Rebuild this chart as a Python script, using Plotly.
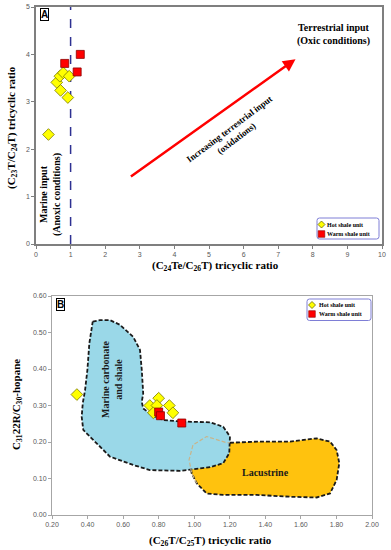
import plotly.graph_objects as go

# ---------------- Panel A data ----------------
a_hot_x = [0.36, 0.60, 0.69, 0.79, 0.96, 0.71, 0.92]
a_hot_y = [2.31, 3.41, 3.54, 3.61, 3.54, 3.24, 3.09]
a_warm_x = [0.83, 1.28, 1.19]
a_warm_y = [3.81, 4.00, 3.63]
a_marine_limit = 1.0
a_arrow_x = [2.7, 7.5]
a_arrow_y = [1.4, 3.9]
a_xticks = [0, 1, 2, 3, 4, 5, 6, 7, 8, 9, 10]
a_yticks = [0, 1, 2, 3, 4, 5]

# ---------------- Panel B data ----------------
b_hot_x = [0.34, 0.75, 0.80, 0.79, 0.77, 0.86, 0.88]
b_hot_y = [0.33, 0.30, 0.32, 0.30, 0.28, 0.30, 0.28]
b_warm_x = [0.80, 0.81, 0.93]
b_warm_y = [0.282, 0.272, 0.252]
b_xticks = [0.2, 0.4, 0.6, 0.8, 1.0, 1.2, 1.4, 1.6, 1.8, 2.0]
b_yticks = [0.0, 0.1, 0.2, 0.3, 0.4, 0.5, 0.6]

marine_x = [0.429, 0.470, 0.526, 0.582, 0.657, 0.695, 0.705, 0.713, 0.705, 0.713,
            0.761, 0.826, 0.938, 1.032, 1.089, 1.163, 1.201, 1.197, 1.163, 1.089,
            0.976, 0.920, 0.751, 0.657, 0.526, 0.414, 0.376, 0.367, 0.373, 0.386,
            0.399, 0.410, 0.423, 0.429]
marine_y = [0.530, 0.534, 0.534, 0.521, 0.488, 0.452, 0.397, 0.333, 0.310, 0.292,
            0.274, 0.260, 0.256, 0.256, 0.254, 0.242, 0.215, 0.169, 0.142, 0.131,
            0.123, 0.121, 0.123, 0.137, 0.160, 0.215, 0.233, 0.269, 0.306, 0.342,
            0.397, 0.470, 0.516, 0.530]

lacus_x = [1.201, 1.351, 1.539, 1.689, 1.764, 1.801, 1.816, 1.801, 1.764, 1.689,
           1.539, 1.351, 1.163, 1.070, 1.014, 0.986, 0.971, 0.993, 1.070, 1.183, 1.201]
lacus_y = [0.198, 0.201, 0.201, 0.210, 0.201, 0.178, 0.142, 0.096, 0.059, 0.048,
           0.050, 0.055, 0.055, 0.059, 0.087, 0.114, 0.151, 0.192, 0.215, 0.198, 0.198]

legend_labels = ["Hot shale unit", "Warm shale unit"]

W, H = 391, 550
SERIF = "Liberation Serif"
SANS = "Liberation Sans"
HOT_COLOR = "#FFFF00"
WARM_COLOR = "#FF0000"
REGION_LINE = dict(color="#1a1a1a", width=1.8, dash="4px,2px")


def px(x):
    return x / W


def py(y):
    return 1 - y / H


fig = go.Figure()

# Panel B regions
fig.add_trace(go.Scatter(x=lacus_x, y=lacus_y, xaxis="x2", yaxis="y2", mode="lines",
                         fill="toself", fillcolor="#FFC20E", line=REGION_LINE,
                         hoverinfo="skip", showlegend=False))
fig.add_trace(go.Scatter(x=marine_x, y=marine_y, xaxis="x2", yaxis="y2", mode="lines",
                         fill="toself", fillcolor="#9AD8E8", line=REGION_LINE,
                         hoverinfo="skip", showlegend=False))
fig.add_trace(go.Scatter(x=lacus_x[14:], y=lacus_y[14:], xaxis="x2", yaxis="y2", mode="lines",
                         line=dict(color="#c9b48a", width=1.2, dash="4px,2px"),
                         hoverinfo="skip", showlegend=False))

# dashed vertical line (panel A)
fig.add_trace(go.Scatter(x=[a_marine_limit, a_marine_limit], y=[a_yticks[0], a_yticks[-1]],
                         mode="lines", line=dict(color="#2E3192", width=1.5, dash="dash"),
                         hoverinfo="skip", showlegend=False))

# Panel A points
fig.add_trace(go.Scatter(x=a_hot_x, y=a_hot_y, mode="markers", name=legend_labels[0],
                         marker=dict(symbol="diamond", size=9, color=HOT_COLOR,
                                     line=dict(color="#7a7a00", width=0.8)),
                         showlegend=False))
fig.add_trace(go.Scatter(x=a_warm_x, y=a_warm_y, mode="markers", name=legend_labels[1],
                         marker=dict(symbol="square", size=8, color=WARM_COLOR,
                                     line=dict(color="#8b0000", width=0.8)),
                         showlegend=False))
# Panel B points
fig.add_trace(go.Scatter(x=b_hot_x, y=b_hot_y, xaxis="x2", yaxis="y2", mode="markers",
                         name=legend_labels[0],
                         marker=dict(symbol="diamond", size=9, color=HOT_COLOR,
                                     line=dict(color="#7a7a00", width=0.8)),
                         showlegend=False))
fig.add_trace(go.Scatter(x=b_warm_x, y=b_warm_y, xaxis="x2", yaxis="y2", mode="markers",
                         name=legend_labels[1],
                         marker=dict(symbol="square", size=8, color=WARM_COLOR,
                                     line=dict(color="#8b0000", width=0.8)),
                         showlegend=False))

tickfont = dict(family=SANS, size=7, color="#595959")
axis_common = dict(showgrid=False, zeroline=False, showline=True, mirror=True,
                   ticks="outside", ticklen=3, tickfont=tickfont, automargin=False)

fig.update_layout(
    width=W, height=H,
    margin=dict(l=0, r=0, t=0, b=0, autoexpand=False),
    paper_bgcolor="white", plot_bgcolor="white",
    showlegend=False,
    xaxis=dict(domain=[36/W, 382/W], range=[a_xticks[0], a_xticks[-1]],
               tickvals=a_xticks, linecolor="#7f7f7f", linewidth=1.5,
               tickcolor="#7f7f7f", anchor="y", **axis_common),
    yaxis=dict(domain=[1-244/H, 1-7/H], range=[a_yticks[0], a_yticks[-1]],
               tickvals=a_yticks, linecolor="#7f7f7f", linewidth=1.5,
               tickcolor="#7f7f7f", anchor="x", **axis_common),
    xaxis2=dict(domain=[52/W, 372/W], range=[b_xticks[0], b_xticks[-1]],
                tickvals=b_xticks, tickformat=".2f", linecolor="#a6a6a6", linewidth=1,
                tickcolor="#a6a6a6", anchor="y2", **axis_common),
    yaxis2=dict(domain=[1-515/H, 1-296/H], range=[b_yticks[0], b_yticks[-1]],
                tickvals=b_yticks, tickformat=".2f", linecolor="#a6a6a6", linewidth=1,
                tickcolor="#a6a6a6", anchor="x2", **axis_common),
)

shapes = []
ann = []


def text_ann(text, x, y, size, angle=0, family=SERIF, color="black", **kw):
    d = dict(text=text, xref="paper", yref="paper", x=px(x), y=py(y),
             xanchor="center", yanchor="middle", showarrow=False, textangle=angle,
             font=dict(family=family, size=size, color=color))
    d.update(kw)
    ann.append(d)


def rounded_rect(x0, y0, x1, y1, r):
    return (f"M {px(x0 + r)} {py(y0)} L {px(x1 - r)} {py(y0)} "
            f"Q {px(x1)} {py(y0)} {px(x1)} {py(y0 + r)} L {px(x1)} {py(y1 - r)} "
            f"Q {px(x1)} {py(y1)} {px(x1 - r)} {py(y1)} L {px(x0 + r)} {py(y1)} "
            f"Q {px(x0)} {py(y1)} {px(x0)} {py(y1 - r)} L {px(x0)} {py(y0 + r)} "
            f"Q {px(x0)} {py(y0)} {px(x0 + r)} {py(y0)} Z")


def add_legend(box, items_y, marker_x, text_x):
    x0, y0, x1, y1 = box
    shapes.append(dict(type="path", xref="paper", yref="paper", layer="above",
                       path=rounded_rect(x0, y0, x1, y1, 2.5),
                       line=dict(color="#7E7ED6", width=1), fillcolor="white"))
    cy = items_y[0]
    r = 3.5
    shapes.append(dict(type="path", xref="paper", yref="paper", layer="above",
                       path=f"M {px(marker_x - r)} {py(cy)} L {px(marker_x)} {py(cy - r)} "
                            f"L {px(marker_x + r)} {py(cy)} L {px(marker_x)} {py(cy + r)} Z",
                       fillcolor=HOT_COLOR, line=dict(color="#6b6b00", width=0.8)))
    cy = items_y[1]
    r = 3.3
    shapes.append(dict(type="rect", xref="paper", yref="paper", layer="above",
                       x0=px(marker_x - r), x1=px(marker_x + r), y0=py(cy + r), y1=py(cy - r),
                       fillcolor=WARM_COLOR, line=dict(color="#8b0000", width=0.6)))
    for lab, cy in zip(legend_labels, items_y):
        ann.append(dict(text=f"<b>{lab}</b>", xref="paper", yref="paper",
                        x=px(text_x), y=py(cy), xanchor="left", yanchor="middle",
                        showarrow=False, font=dict(family=SERIF, size=6, color="black")))


add_legend((317, 218, 379, 239), (224.5, 234), 321.5, 325)
add_legend((307, 299, 371, 320.5), (305, 314), 312, 316.5)

# Panel labels
text_ann("<b>A</b>", 44.5, 15, 10, family=SANS,
         bordercolor="black", borderwidth=1, borderpad=0, bgcolor="white")
text_ann("<b>B</b>", 60, 304, 10, family=SANS,
         bordercolor="black", borderwidth=1, borderpad=0, bgcolor="white")
# Arrow
ann.append(dict(x=a_arrow_x[1], y=a_arrow_y[1], ax=a_arrow_x[0], ay=a_arrow_y[0],
                xref="x", yref="y", axref="x", ayref="y", text="", showarrow=True,
                arrowhead=2, arrowsize=1, arrowwidth=2.5, arrowcolor="#FF0000"))
ann.append(dict(text="<b>Increasing terrestrial input<br>(oxidations)</b>", xref="x", yref="y",
                x=5.69, y=2.32, textangle=-37, showarrow=False,
                xanchor="center", yanchor="middle",
                font=dict(family=SERIF, size=9, color="black")))
text_ann("<b>Terrestrial input<br>(Oxic conditions)</b>", 333, 35, 10)
text_ann("<b>Marine input<br>(Anoxic conditions)</b>", 51, 195, 10, angle=-90)
# Axis titles A
text_ann("<b>(C<sub>24</sub>Te/C<sub>26</sub>T) tricyclic ratio</b>", 216, 266, 11)
text_ann("<b>(C<sub>23</sub>T/C<sub>24</sub>T) tricyclic ratio</b>", 12, 128, 11, angle=-90)
# Panel B texts
text_ann("<b>Marine carbonate<br>and shale</b>", 112, 380, 10, angle=-90, color="#1a1a1a")
text_ann("<b>Lacustrine</b>", 265, 472, 10, color="#1a1a1a")
text_ann("<b>(C<sub>26</sub>T/C<sub>25</sub>T) tricyclic ratio</b>", 211, 541, 11)
text_ann("<b>C<sub>31</sub>22R/C<sub>30</sub>-hopane</b>", 17, 405, 11, angle=-90)

fig.update_layout(annotations=ann, shapes=shapes)
fig.write_html("out.html", config={"displayModeBar": False},
               post_script="document.body.style.margin='0px';")
